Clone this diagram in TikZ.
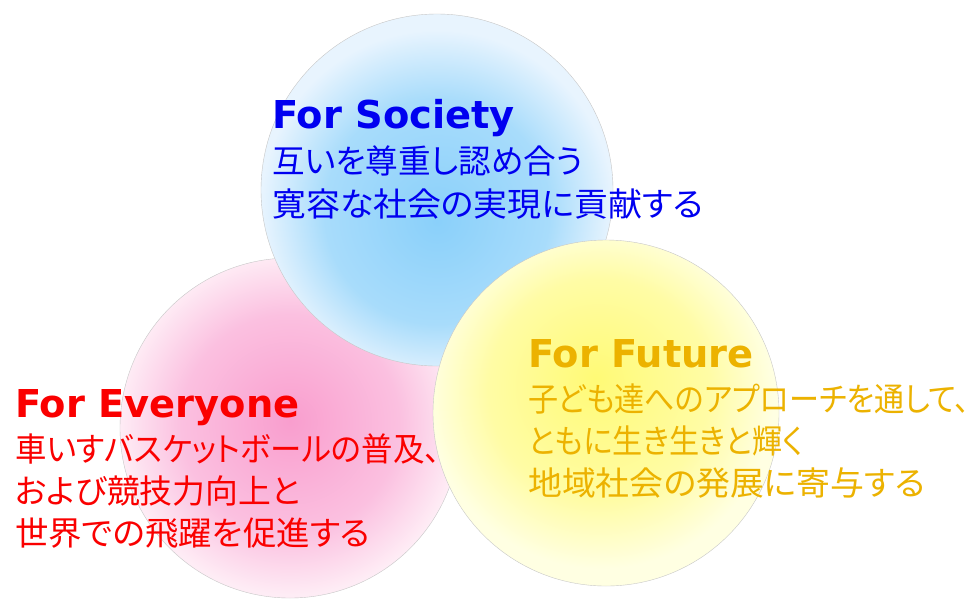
\documentclass[tikz,border=0pt]{standalone}
\usepackage{fontspec}
\usepackage{graphicx}
\setmainfont{DejaVu Sans}
\newfontfamily\jp[RawFeature=+palt]{Noto Sans CJK JP}
\newfontfamily\titlefont{DejaVu Sans Bold}
\newcommand\fitline[2]{\resizebox{#1pt}{\height}{#2}}
\definecolor{bluein}{RGB}{138,208,250}
\definecolor{bluemid}{RGB}{168,220,251}
\definecolor{blueout}{RGB}{232,244,254}
\definecolor{pinkin}{RGB}{249,158,206}
\definecolor{pinkmid}{RGB}{251,192,224}
\definecolor{pinkout}{RGB}{254,236,245}
\definecolor{yelin}{RGB}{255,250,118}
\definecolor{yelmid}{RGB}{255,252,165}
\definecolor{yelout}{RGB}{255,255,226}
\definecolor{societyc}{RGB}{0,0,240}
\definecolor{everyonec}{RGB}{250,0,0}
\definecolor{futurec}{RGB}{236,178,0}
\pgfdeclareradialshading{blueball}{\pgfpoint{0bp}{-4.5bp}}{color(0bp)=(bluein); color(16bp)=(bluemid); color(25bp)=(blueout); color(50bp)=(blueout)}
\pgfdeclareradialshading{pinkball}{\pgfpoint{0bp}{1bp}}{color(0bp)=(pinkin); color(16bp)=(pinkmid); color(25bp)=(pinkout); color(50bp)=(pinkout)}
\pgfdeclareradialshading{yelball}{\pgfpoint{-1.5bp}{5bp}}{color(0bp)=(yelin); color(16bp)=(yelmid); color(25bp)=(yelout); color(50bp)=(yelout)}
\tikzset{
  ball/.style={draw=black!22, line width=0.4pt},
  titletext/.style={anchor=base west, inner sep=0pt, font=\titlefont\fontsize{38.4}{40}\selectfont},
  bodytext/.style={anchor=base west, inner sep=0pt, font=\jp\fontsize{33}{35}\selectfont},
}
\begin{document}
\begin{tikzpicture}[x=1pt, y=-1pt]
\useasboundingbox (0,0) rectangle (976,606);
\fill[white] (0,0) rectangle (976,606);
% circles (pink, blue, yellow in stacking order)
\path[ball, shading=pinkball] (290,428) circle[radius=170];
\path[ball, shading=blueball] (437,190) circle[radius=176];
\path[ball, shading=yelball] (606,413) circle[radius=173];
% For Society
\node[titletext, text=societyc] (st) at (272,128) {For Society};
\node[bodytext, text=societyc] (s1) at (272,173) {\fitline{311}{互いを尊重し認め合う}};
\node[bodytext, text=societyc] (s2) at (272,216) {\fitline{431}{寛容な社会の実現に貢献する}};
% For Everyone
\node[titletext, text=everyonec] (et) at (15,417) {For Everyone};
\node[bodytext, text=everyonec] (e1) at (15,461) {\fitline{425}{車いすバスケットボールの普及、}};
\node[bodytext, text=everyonec] (e2) at (15,503) {\fitline{285}{および競技力向上と}};
\node[bodytext, text=everyonec] (e3) at (15,545) {\fitline{355}{世界での飛躍を促進する}};
% For Future
\node[titletext, text=futurec] (ft) at (528,367) {For Future};
\node[bodytext, text=futurec] (f1) at (528,411) {\fitline{442}{子ども達へのアプローチを通して、}};
\node[bodytext, text=futurec] (f2) at (528,453) {\fitline{275}{ともに生き生きと輝く}};
\node[bodytext, text=futurec] (f3) at (528,495) {\fitline{397}{地域社会の発展に寄与する}};
\end{tikzpicture}
\end{document}
